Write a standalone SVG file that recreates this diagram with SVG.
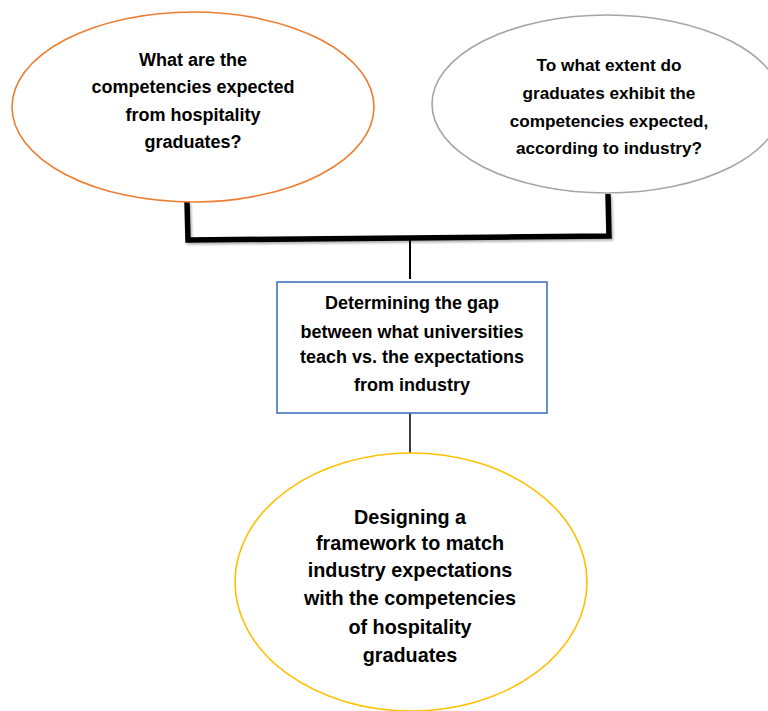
<svg xmlns="http://www.w3.org/2000/svg" width="768" height="711" viewBox="0 0 768 711">
<defs>
<style>
.t{font-family:"Liberation Sans",Arial,sans-serif;font-weight:bold;font-size:18px;fill:#000;text-anchor:middle}
.s{font-size:17.2px}
.l{font-size:19.8px}
.n{fill:#fff;stroke-width:1.6}
</style>
<filter id="sh" x="-5%" y="-20%" width="110%" height="150%">
<feDropShadow dx="1.5" dy="2" stdDeviation="1.2" flood-color="#000" flood-opacity="0.3"/>
</filter>
</defs>
<rect width="768" height="711" fill="#fff"/>
<g id="connectors" fill="none" stroke="#000">
<path d="M187 202 L188 240 L609 236 L608 194" stroke-width="5.5" filter="url(#sh)"/>
<line x1="410" y1="238" x2="410" y2="279" stroke-width="2"/>
<line x1="410" y1="413" x2="410" y2="453" stroke-width="1.5"/>
</g>
<g id="q1">
<ellipse class="n" cx="193" cy="107" rx="181" ry="95" stroke="#ED7D31"/>
<text class="t" x="193" y="66">What are the</text>
<text class="t" x="193" y="93">competencies expected</text>
<text class="t" x="193" y="121">from hospitality</text>
<text class="t" x="193" y="148">graduates?</text>
</g>
<g id="q2">
<ellipse class="n" cx="607" cy="104" rx="175" ry="89" stroke="#A5A5A5"/>
<text class="t s" x="609" y="71">To what extent do</text>
<text class="t s" x="609" y="99">graduates exhibit the</text>
<text class="t s" x="609" y="127">competencies expected,</text>
<text class="t s" x="609" y="154">according to industry?</text>
</g>
<g id="gap">
<rect class="n" x="277" y="282" width="270" height="131" stroke="#4472C4"/>
<text class="t" x="412" y="309">Determining the gap</text>
<text class="t" x="412" y="338">between what universities</text>
<text class="t" x="412" y="363">teach vs. the expectations</text>
<text class="t" x="412" y="391">from industry</text>
</g>
<g id="framework">
<ellipse class="n" cx="411" cy="582" rx="176" ry="129" stroke="#FFC000"/>
<text class="t l" x="410" y="524">Designing a</text>
<text class="t l" x="410" y="550">framework to match</text>
<text class="t l" x="410" y="577">industry expectations</text>
<text class="t l" x="410" y="605">with the competencies</text>
<text class="t l" x="410" y="634">of hospitality</text>
<text class="t l" x="410" y="662">graduates</text>
</g>
</svg>
